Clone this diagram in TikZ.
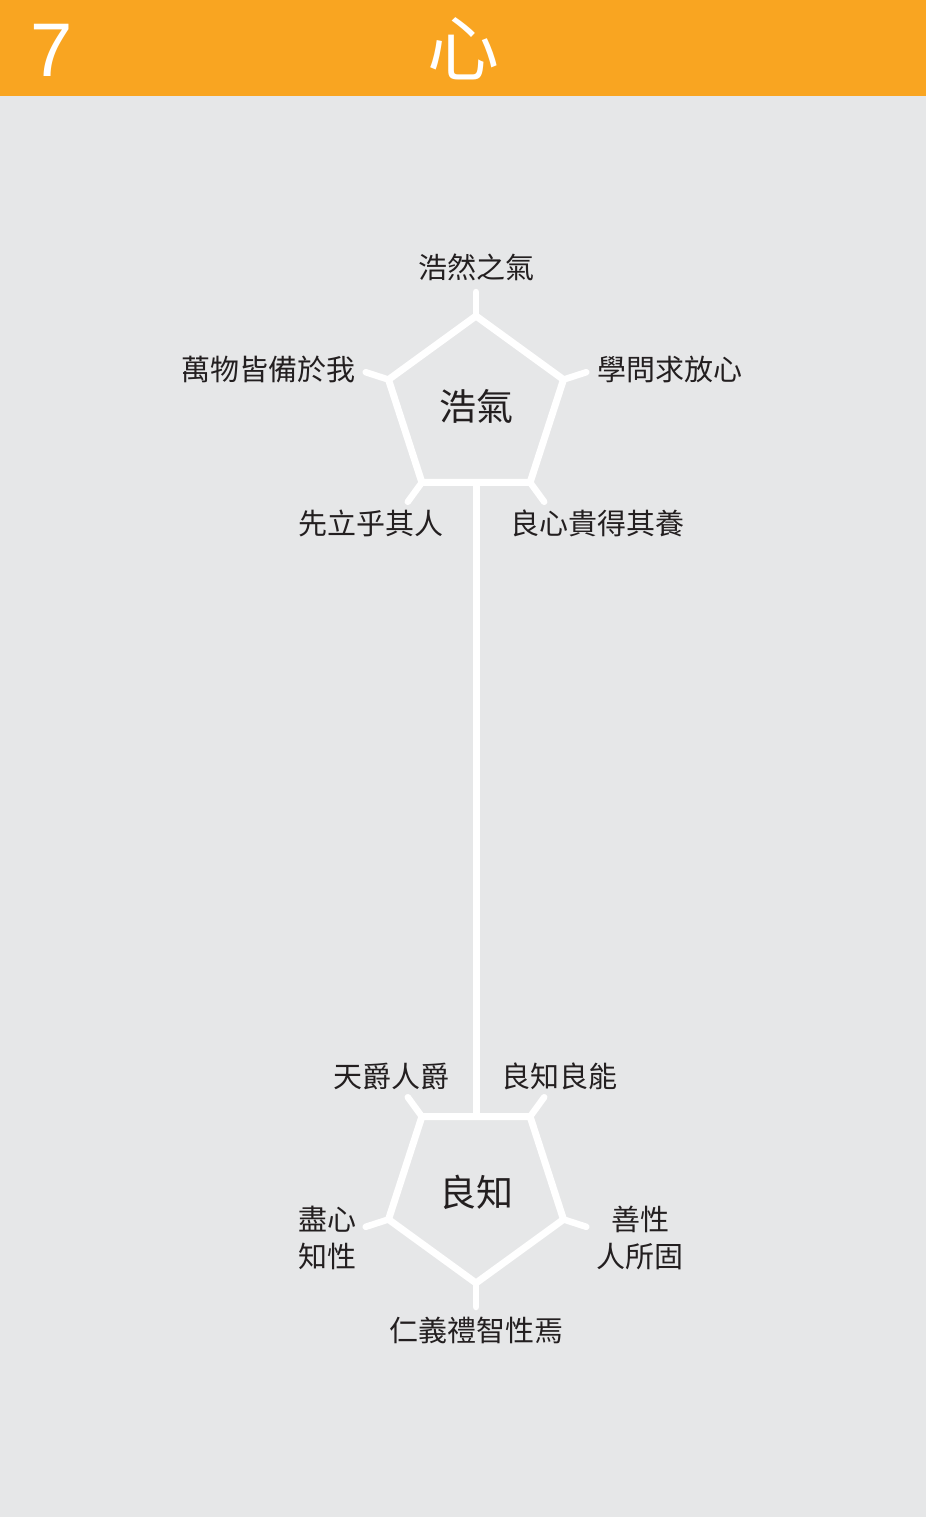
\documentclass[tikz,border=0pt]{standalone}
\usepackage{fontspec}
\newfontfamily\cjk{Noto Sans CJK TC}
\setmainfont{Liberation Sans}
\definecolor{bg}{HTML}{E6E7E8}
\definecolor{hdr}{HTML}{F9A521}
\definecolor{txt}{HTML}{231F20}
\tikzset{
  pent/.style={draw=white,line width=7pt,line join=miter},
  spoke/.style={draw=white,line width=6.5pt,line cap=round},
  stem/.style={draw=white,line width=7pt},
  lbl/.style={font=\cjk\fontsize{29}{37}\selectfont,text=txt,inner sep=0pt,align=center},
  core/.style={font=\cjk\fontsize{37}{40}\selectfont,text=txt,inner sep=0pt},
}
\begin{document}
\begin{tikzpicture}[x=1pt,y=-1pt]
\fill[bg] (0,0) rectangle (926,1517);
\useasboundingbox (0,0) rectangle (926,1517);
\fill[hdr] (0,0) rectangle (926,96);
\node[font=\fontsize{76}{76}\selectfont,text=white,inner sep=0pt,anchor=base west] (num) at (30,77) {7};
\node[font=\cjk\fontsize{72}{72}\selectfont,text=white,inner sep=0pt] (title) at (463,49) {心};

% top pentagon
\coordinate (a1) at (476,316);
\coordinate (a2) at (563.5,379.6);
\coordinate (a3) at (530.1,482.4);
\coordinate (a4) at (421.9,482.4);
\coordinate (a5) at (388.5,379.6);
\coordinate (s1) at (476,292);
\coordinate (s2) at (586.3,372.2);
\coordinate (s3) at (544.2,501.8);
\coordinate (s4) at (407.8,501.8);
\coordinate (s5) at (365.7,372.2);
\coordinate (am) at (476,482.4);

% bottom pentagon
\coordinate (b1) at (476,1283);
\coordinate (b2) at (388.5,1219.4);
\coordinate (b3) at (421.9,1116.6);
\coordinate (b4) at (530.1,1116.6);
\coordinate (b5) at (563.5,1219.4);
\coordinate (t1) at (476,1307);
\coordinate (t2) at (365.7,1226.8);
\coordinate (t3) at (407.8,1097.2);
\coordinate (t4) at (544.2,1097.2);
\coordinate (t5) at (586.3,1226.8);
\coordinate (bm) at (476,1116.6);

\draw[stem] (am) -- (bm);
\draw[spoke] (a1) -- (s1);
\draw[spoke] (a2) -- (s2);
\draw[spoke] (a3) -- (s3);
\draw[spoke] (a4) -- (s4);
\draw[spoke] (a5) -- (s5);
\draw[spoke] (b1) -- (t1);
\draw[spoke] (b2) -- (t2);
\draw[spoke] (b3) -- (t3);
\draw[spoke] (b4) -- (t4);
\draw[spoke] (b5) -- (t5);
\draw[pent] (a1) -- (a2) -- (a3) -- (a4) -- (a5) -- cycle;
\draw[pent] (b1) -- (b2) -- (b3) -- (b4) -- (b5) -- cycle;

\node[core] (hq) at (476,406) {浩氣};
\node[core] (lz) at (476,1192) {良知};

\node[lbl] (l1) at (476,267) {浩然之氣};
\node[lbl,anchor=east] (l2) at (356,369) {萬物皆備於我};
\node[lbl,anchor=west] (l3) at (597,369) {學問求放心};
\node[lbl,anchor=east] (l4) at (444,523) {先立乎其人};
\node[lbl,anchor=west] (l5) at (510,523) {良心貴得其養};

\node[lbl,anchor=east] (m1) at (450,1076) {天爵人爵};
\node[lbl,anchor=west] (m2) at (501,1076) {良知良能};
\node[lbl] (m3) at (327,1238) {盡心\\知性};
\node[lbl] (m4) at (640,1238) {善性\\人所固};
\node[lbl] (m5) at (476,1330) {仁義禮智性焉};
\end{tikzpicture}
\end{document}
